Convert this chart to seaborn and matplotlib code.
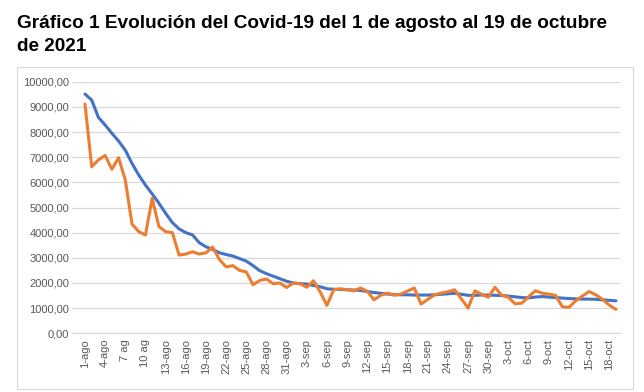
import numpy as np
import pandas as pd
import matplotlib
matplotlib.use('Agg')
import matplotlib.pyplot as plt
import seaborn as sns
from matplotlib.patches import Rectangle

# daily values, 1-ago .. 19-oct
orange = [9110, 6620, 6890, 7070, 6520, 6980, 6090, 4340, 4040, 3910,
          5360, 4240, 4040, 4000, 3110, 3150, 3240, 3150, 3200, 3430,
          2930, 2640, 2690, 2500, 2440, 1930, 2100, 2160, 1970, 2000,
          1820, 2000, 1970, 1830, 2090, 1640, 1110, 1730, 1770, 1730,
          1690, 1800, 1670, 1330, 1510, 1600, 1510, 1560, 1680, 1800,
          1160, 1350, 1530, 1600, 1650, 1730, 1370, 1000, 1690, 1550,
          1430, 1830, 1510, 1430, 1170, 1200, 1450, 1690, 1600, 1560,
          1510, 1060, 1030, 1290, 1480, 1660, 1530, 1350, 1120, 950]
blue = [9510, 9270, 8580, 8280, 7950, 7640, 7280, 6750, 6290, 5890,
        5540, 5170, 4770, 4400, 4150, 4000, 3910, 3600, 3440, 3330,
        3200, 3130, 3070, 2970, 2870, 2690, 2490, 2370, 2270, 2170,
        2070, 2000, 1970, 1960, 1900, 1850, 1770, 1750, 1740, 1730,
        1720, 1700, 1660, 1620, 1590, 1560, 1540, 1530, 1530, 1520,
        1520, 1520, 1530, 1550, 1570, 1590, 1550, 1510, 1510, 1520,
        1520, 1510, 1500, 1480, 1450, 1420, 1410, 1440, 1460, 1440,
        1420, 1400, 1380, 1370, 1360, 1360, 1350, 1330, 1310, 1290]
tick_labels = ['1-ago', '4-ago', '7 ag', '10 ag', '13-ago', '16-ago', '19-ago',
               '22-ago', '25-ago', '28-ago', '31-ago', '3-sep', '6-sep', '9-sep',
               '12-sep', '15-sep', '18-sep', '21-sep', '24-sep', '27-sep', '30-sep',
               '3-oct', '6-oct', '9-oct', '12-oct', '15-oct', '18-oct']

df = pd.DataFrame({'dia': np.arange(len(orange)), 'media': blue, 'diario': orange})

sns.set_style('white')
plt.rcParams['font.family'] = ['Liberation Sans', 'DejaVu Sans']

fig = plt.figure(figsize=(6.44, 3.92), dpi=100)
fig.patches.append(Rectangle((17 / 644, 1 - 389 / 392), 616 / 644, 322 / 392,
                             transform=fig.transFigure, fill=False,
                             edgecolor='#d9d9d9', linewidth=0.8))
ax = fig.add_axes([72 / 644, 1 - 333.3 / 392, 548 / 644, 251.6 / 392])

sns.lineplot(data=df, x='dia', y='media', color='#4472C4', linewidth=2.2, ax=ax)
sns.lineplot(data=df, x='dia', y='diario', color='#ED7D31', linewidth=2.2, ax=ax)

ax.set_xlim(-1.93, 79.6)
ax.set_ylim(0, 10000)
ax.set_yticks(np.arange(0, 10001, 1000))
ax.set_yticklabels([f'{v:.2f}'.replace('.', ',') for v in np.arange(0, 10001, 1000)])
ax.set_xticks(np.arange(0, len(orange), 3))
ax.set_xticklabels(tick_labels, rotation=90)
ax.tick_params(axis='both', length=0, labelsize=8, colors='#595959', pad=4)
ax.tick_params(axis='y', pad=2)
ax.grid(axis='y', color='#d9d9d9', linewidth=0.9)
ax.set_axisbelow(True)
ax.set_xlabel('')
ax.set_ylabel('')
for s in ['top', 'right', 'left']:
    ax.spines[s].set_visible(False)
ax.spines['bottom'].set_color('#d9d9d9')
ax.spines['bottom'].set_linewidth(0.9)

fig.text(17 / 644, 1 - 28.3 / 392,
         'Gráfico 1 Evolución del Covid-19 del 1 de agosto al 19 de octubre',
         fontsize=13.7, fontweight='bold', color='black', va='baseline', ha='left')
fig.text(17 / 644, 1 - 50.7 / 392, 'de 2021',
         fontsize=13.7, fontweight='bold', color='black', va='baseline', ha='left')

plt.savefig('out.png', dpi=100)
